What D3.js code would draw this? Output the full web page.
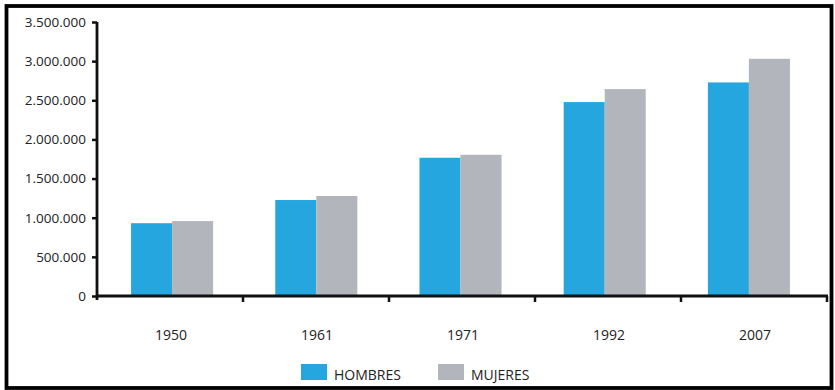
<!DOCTYPE html>
<html>
<head>
<meta charset="utf-8">
<script src="https://cdn.jsdelivr.net/npm/d3@7/dist/d3.min.js"></script>
<style>
  html, body { margin: 0; padding: 0; background: #fff; }
  svg { display: block; }
  text { font-family: "Open Sans", "Noto Sans", sans-serif; fill: #222; }
</style>
</head>
<body>
<svg id="chart" width="835" height="390"></svg>
<script>
// Census years and population by sex
const years = ["1950", "1961", "1971", "1992", "2007"];
const hombres = [930000, 1226000, 1766000, 2477000, 2728000];
const mujeres = [957000, 1277000, 1804000, 2643000, 3030000];
const seriesNames = ["HOMBRES", "MUJERES"];
const seriesColors = ["#25a6de", "#b2b5bb"];
const yTicks = [0, 500000, 1000000, 1500000, 2000000, 2500000, 3000000, 3500000];

const svg = d3.select("#chart");

// Frame around the whole figure
svg.append("rect")
  .attr("x", 6.5).attr("y", 6).attr("width", 825).attr("height", 382)
  .attr("fill", "#fff").attr("stroke", "#000").attr("stroke-width", 3.8);

const plotLeft = 97, plotRight = 827, plotTop = 22, plotBottom = 296;

const y = d3.scaleLinear().domain([0, 3500000]).range([plotBottom, plotTop]);

// Category bands for the axis (tick marks on band edges, labels centred)
const xAxisBand = d3.scaleBand().domain(years).range([plotLeft, plotRight]).padding(0);
// Category bands for the bar pairs
const xBars = d3.scaleBand().domain(years).range([100, 821])
  .paddingInner(0.431).paddingOuter(0.2155);
const xInner = d3.scaleBand().domain(seriesNames).range([0, xBars.bandwidth()]).padding(0);

const es = d3.formatLocale({ decimal: ",", thousands: ".", grouping: [3], currency: ["", ""] });
const fmt = es.format(",");

// Bars
const rows = years.map((yr, i) => ({ year: yr, values: [hombres[i], mujeres[i]] }));
const groups = svg.append("g").selectAll("g").data(rows).join("g")
  .attr("transform", d => `translate(${xBars(d.year)},0)`);
groups.selectAll("rect")
  .data(d => d.values.map((v, k) => ({ key: seriesNames[k], value: v, k })))
  .join("rect")
  .attr("x", d => xInner(d.key))
  .attr("width", xInner.bandwidth())
  .attr("y", d => y(d.value))
  .attr("height", d => y(0) - y(d.value))
  .attr("fill", d => seriesColors[d.k]);

// Y axis
const yAxis = d3.axisLeft(y).tickValues(yTicks).tickFormat(fmt).tickSize(5).tickPadding(6);
const gy = svg.append("g").attr("transform", `translate(${plotLeft},0)`).call(yAxis);
gy.select(".domain").attr("d", `M0,${plotTop}V${plotBottom + 4}`).attr("stroke", "#111").attr("stroke-width", 2.8);
gy.selectAll(".tick line").attr("stroke", "#111").attr("stroke-width", 2.5);
gy.selectAll(".tick text").attr("font-size", 13.5).attr("fill", "#222")
  .attr("font-family", "'Open Sans', sans-serif");

// X axis: baseline with ticks on band boundaries
const gx = svg.append("g");
gx.append("line")
  .attr("x1", plotLeft).attr("x2", plotRight + 1)
  .attr("y1", y(0)).attr("y2", y(0))
  .attr("stroke", "#111").attr("stroke-width", 2.8);
gx.selectAll("line.tk").data(years).join("line").attr("class", "tk")
  .attr("x1", d => xAxisBand(d) + xAxisBand.bandwidth())
  .attr("x2", d => xAxisBand(d) + xAxisBand.bandwidth())
  .attr("y1", y(0)).attr("y2", y(0) + 6)
  .attr("stroke", "#111").attr("stroke-width", 2.5);
gx.selectAll("text").data(years).join("text")
  .attr("x", d => xAxisBand(d) + xAxisBand.bandwidth() / 2 + 1)
  .attr("y", 340)
  .attr("text-anchor", "middle")
  .attr("font-size", 14)
  .text(d => d);

// Legend
const legendX = [301, 438];
const legend = svg.append("g").selectAll("g").data(seriesNames).join("g")
  .attr("transform", (d, i) => `translate(${legendX[i]},364)`);
legend.append("rect").attr("width", 26).attr("height", 16)
  .attr("fill", (d, i) => seriesColors[i]);
legend.append("text").attr("x", 33).attr("y", 15.5)
  .attr("font-size", 14).text(d => d);
</script>
</body>
</html>
